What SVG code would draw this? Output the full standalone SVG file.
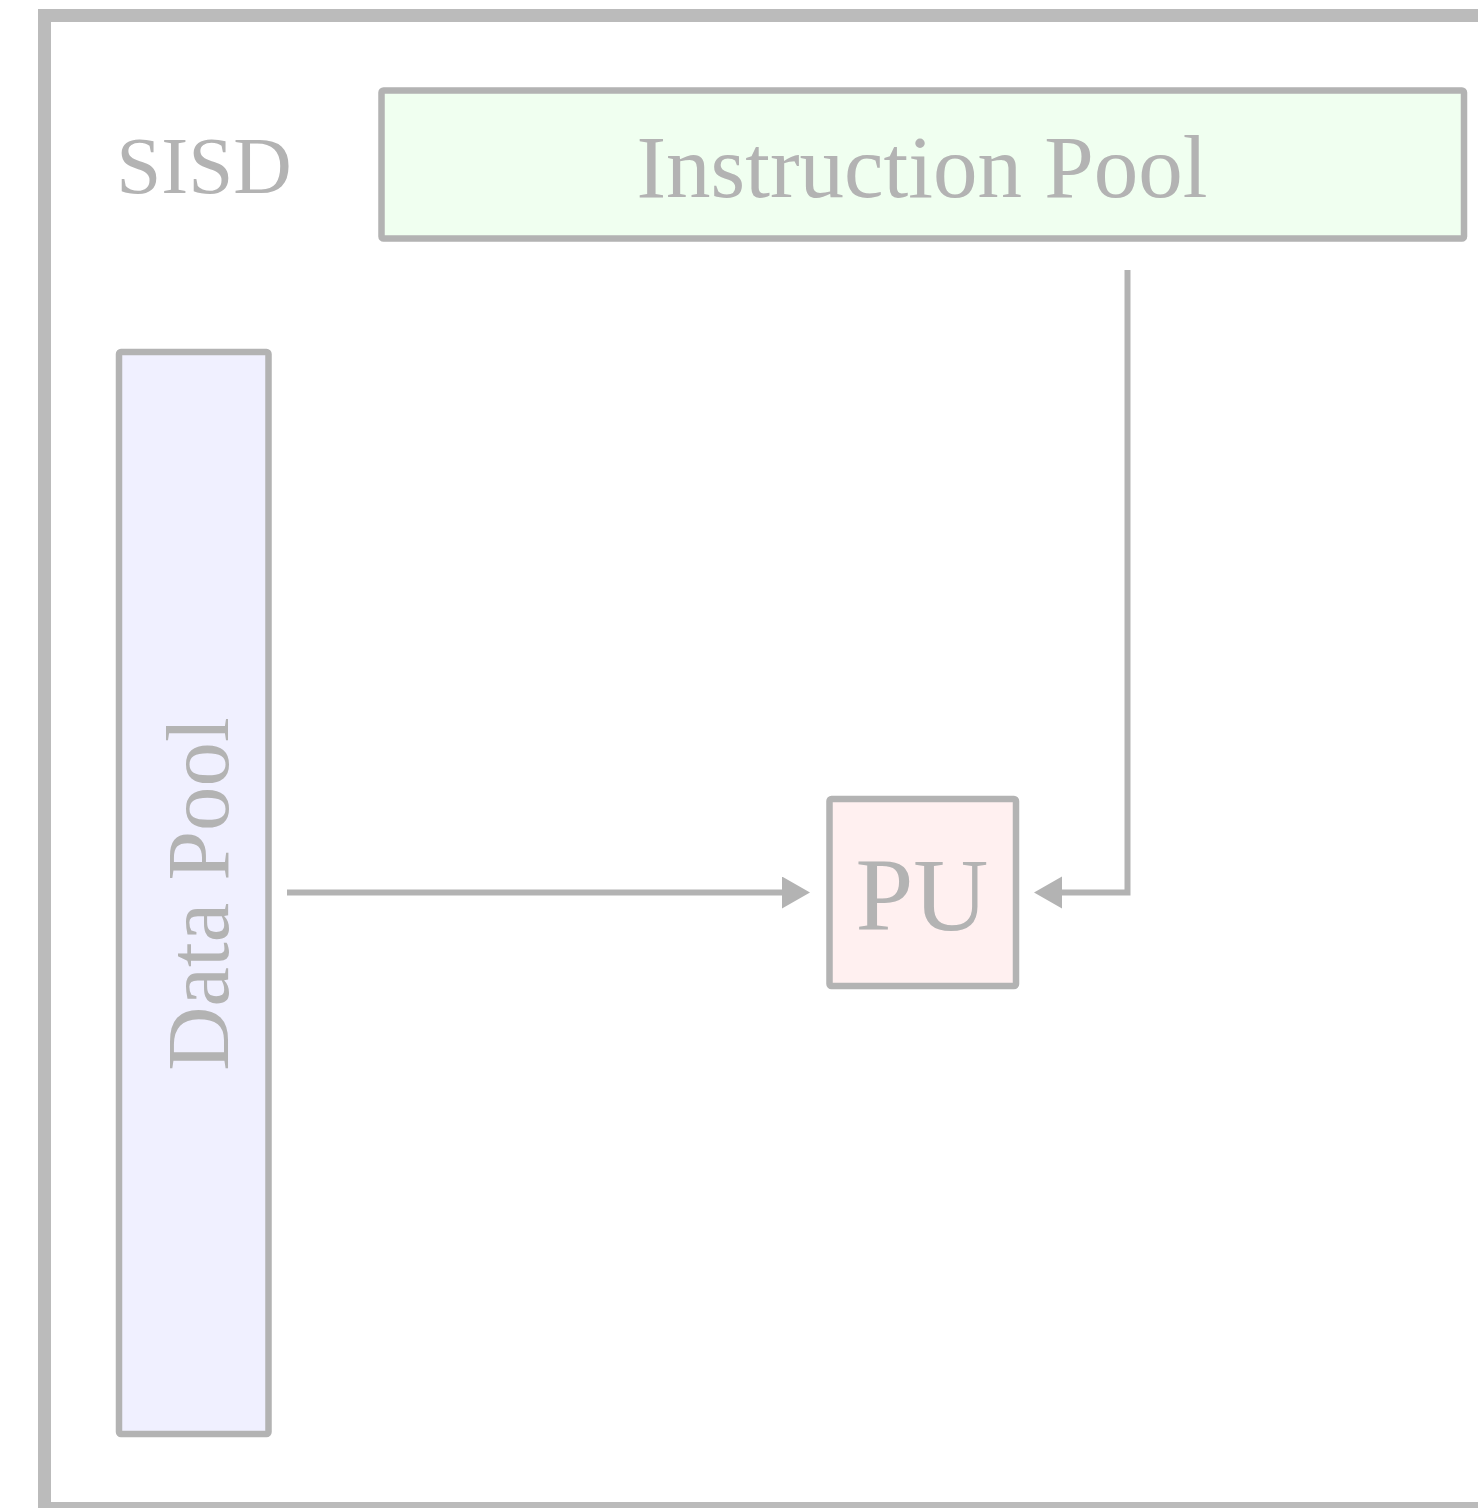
<svg xmlns="http://www.w3.org/2000/svg" width="1478" height="1508" viewBox="0 0 1478 1508">
  <style>
    .box { stroke: #b3b3b3; stroke-width: 6.5; }
    .lbl { font-family: "Liberation Serif", "Times New Roman", serif; fill: #b3b3b3; text-anchor: middle; }
    .conn { stroke: #b3b3b3; stroke-width: 6; fill: none; }
  </style>
  <defs>
    <marker id="arrow" markerUnits="userSpaceOnUse" markerWidth="30" markerHeight="34" refX="0" refY="16" orient="auto">
      <path d="M0,0 L28,16 L0,32 Z" fill="#b3b3b3"/>
    </marker>
  </defs>
  <rect x="0" y="0" width="1478" height="1508" fill="#ffffff"/>
  <g id="frame">
    <rect x="44.5" y="15.5" width="1500" height="1493" fill="#ffffff" stroke="#bbbbbb" stroke-width="13"/>
    <text class="lbl" x="204" y="193" font-size="81">SISD</text>
  </g>
  <g id="instruction-pool">
    <rect class="box" x="381.5" y="90.5" width="1082.5" height="148" rx="2" fill="#f0fff0"/>
    <text class="lbl" x="922" y="197" font-size="89">Instruction Pool</text>
  </g>
  <g id="data-pool">
    <rect class="box" x="119" y="352" width="149.5" height="1082" rx="2" fill="#f0f0ff"/>
    <text class="lbl" transform="translate(228,894) rotate(-90)" x="0" y="0" font-size="89">Data Pool</text>
  </g>
  <g id="pu">
    <rect class="box" x="829.5" y="799" width="186.5" height="187" rx="2" fill="#fff0f0"/>
    <text class="lbl" x="922" y="930" font-size="104">PU</text>
  </g>
  <g id="connectors">
    <line class="conn" x1="287" y1="892.5" x2="782" y2="892.5" marker-end="url(#arrow)"/>
    <path class="conn" d="M1127.5,270 V892.5 H1062" marker-end="url(#arrow)"/>
  </g>
</svg>
